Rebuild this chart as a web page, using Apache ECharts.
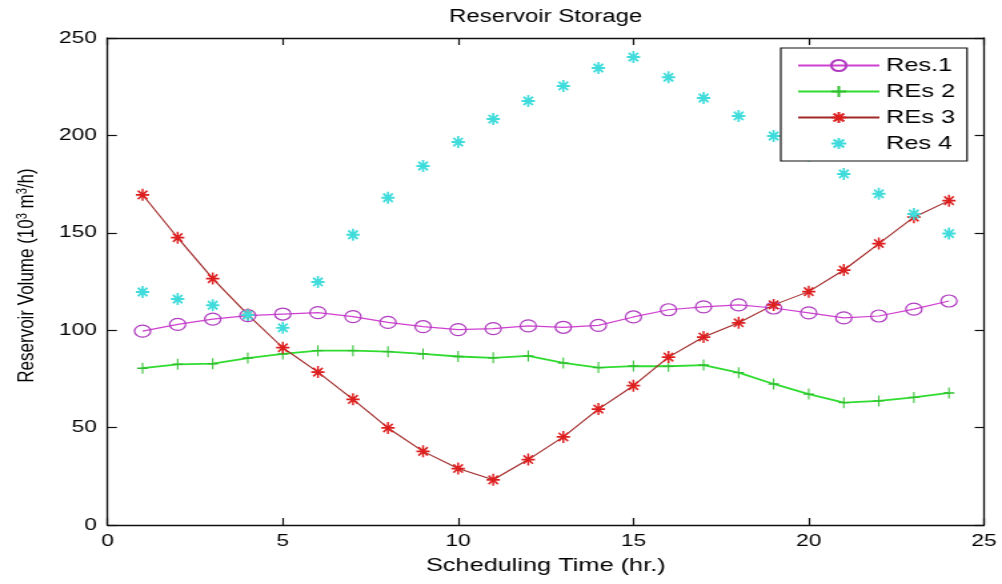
<!DOCTYPE html>
<html>
<head>
<meta charset="utf-8">
<script src="https://cdn.jsdelivr.net/npm/echarts@6.0.0/dist/echarts.min.js"></script>
<style>
  html, body { margin: 0; padding: 0; background: #fff; overflow: hidden; }
  #frame { width: 1002px; height: 584px; overflow: hidden; background: #fff; }
  /* the figure is laid out on a 752px canvas and shown widened to 1002px */
  #chart { width: 752px; height: 584px; transform: scaleX(1.332447); transform-origin: 0 0; }
</style>
</head>
<body>
<div id="frame"><div id="chart"></div></div>
<script>
// Scheduling hours
const hours = [1, 2, 3, 4, 5, 6, 7, 8, 9, 10, 11, 12, 13, 14, 15, 16, 17, 18, 19, 20, 21, 22, 23, 24];

// Reservoir volumes (10^3 m^3/h)
const res1 = [99.5, 103, 105.7, 107.5, 108.3, 109, 107, 104, 101.8, 100.3, 100.8, 102.2,
              101.5, 102.5, 106.8, 110.5, 112, 113, 111.4, 108.9, 106.3, 107.3, 110.8, 115];
const res2 = [80.5, 82.5, 82.8, 85.7, 87.8, 89.5, 89.5, 89, 87.8, 86.5, 85.8, 86.8,
              83.2, 80.8, 81.6, 81.5, 82.1, 78.2, 72.4, 67.2, 62.8, 63.7, 65.5, 67.8];
const res3 = [169.5, 147.5, 126.5, 108, 91, 78.5, 64.5, 49.8, 37.8, 29, 23.2, 33.6,
              45.2, 59.5, 71.5, 86.2, 96.5, 103.8, 113, 119.8, 130.9, 144.5, 158, 166.5];
const res4 = [119.6, 116, 112.8, 107.8, 101.2, 124.8, 149, 168, 184.3, 196.6, 208.4, 217.7,
              225.4, 234.6, 240.2, 229.8, 219.2, 210, 199.7, 189.5, 180.2, 170, 159.7, 149.6];

const seriesNames = ['Res.1', 'REs 2', 'REs 3', 'Res 4'];
const xTicks = { min: 0, max: 25, step: 5 };
const yTicks = { min: 0, max: 250, step: 50 };

const chartTitle = 'Reservoir Storage';
const xName = 'Scheduling Time (hr.)';
const yName = 'Reservoir Volume (10{sup|3} m{sup|3}/h)';

const pairs = vals => hours.map((h, i) => [h, vals[i]]);

const PLUS = 'path://M0,-10L0,10M-10,0L10,0';
const STAR = 'path://M0,-10L0,10M-10,0L10,0M-7,-7L7,7M-7,7L7,-7';

const FONT = '"Liberation Sans", Arial, Helvetica, sans-serif';

function frameAxis(extra, ticks) {
  return Object.assign({
    type: 'value',
    min: ticks.min,
    max: ticks.max,
    interval: ticks.step,
    axisLine: { show: true, onZero: false, lineStyle: { color: '#111', width: 1.3 } },
    axisTick: { show: true, inside: true, length: 7, lineStyle: { color: '#111', width: 1.2 } },
    axisLabel: { show: false },
    splitLine: { show: false }
  }, extra);
}

const chart = echarts.init(document.getElementById('chart'), null, { renderer: 'canvas' });

chart.setOption({
  animation: false,
  backgroundColor: '#fff',
  textStyle: { fontFamily: FONT },
  title: {
    text: chartTitle,
    left: 409.6,
    top: 8,
    textAlign: 'center',
    padding: 0,
    textStyle: { fontSize: 18, fontWeight: 'normal', color: '#000', fontFamily: FONT }
  },
  legend: {
    orient: 'vertical',
    left: 586,
    top: 48,
    padding: [8, 9, 8, 12],
    itemWidth: 61,
    itemHeight: 14,
    itemGap: 7,
    backgroundColor: '#fff',
    borderColor: '#111',
    borderWidth: 1.2,
    selectedMode: false,
    textStyle: { fontSize: 19, color: '#000', fontFamily: FONT },
    data: seriesNames
  },
  grid: { left: 80.7, right: 13.5, top: 38, bottom: 59 },
  xAxis: [
    frameAxis({
      position: 'bottom',
      name: xName,
      nameLocation: 'middle',
      nameGap: 31,
      nameTextStyle: { fontSize: 19, color: '#000', fontFamily: FONT },
      axisLabel: { show: true, fontSize: 17, color: '#000', margin: 8, fontFamily: FONT }
    }, xTicks),
    frameAxis({ position: 'top' }, xTicks)
  ],
  yAxis: [
    frameAxis({
      position: 'left',
      name: yName,
      nameLocation: 'middle',
      nameGap: 52,
      nameTextStyle: {
        fontSize: 17, color: '#000', fontFamily: FONT,
        padding: [0, 0, 0, 12],
        rich: { sup: { fontSize: 11, verticalAlign: 'top', color: '#000', fontFamily: FONT } }
      },
      axisLabel: { show: true, fontSize: 17, color: '#000', margin: 8, fontFamily: FONT }
    }, yTicks),
    frameAxis({ position: 'right' }, yTicks)
  ],
  series: [
    {
      name: seriesNames[0],
      type: 'line',
      data: pairs(res1),
      symbol: 'circle',
      symbolSize: 12,
      lineStyle: { color: '#d040d0', width: 1.2 },
      itemStyle: { color: 'transparent', borderColor: '#b03cc0', borderWidth: 1.2 }
    },
    {
      name: seriesNames[1],
      type: 'line',
      data: pairs(res2),
      symbol: PLUS,
      symbolSize: [8, 11],
      lineStyle: { color: '#30dc30', width: 1.8 },
      itemStyle: { color: '#30c030', borderColor: '#30c030', borderWidth: 1.2 }
    },
    {
      name: seriesNames[2],
      type: 'line',
      data: pairs(res3),
      symbol: STAR,
      symbolSize: [10, 12],
      lineStyle: { color: '#a02828', width: 1.1 },
      itemStyle: { color: '#dd1f1f', borderColor: '#dd1f1f', borderWidth: 1.6 }
    },
    {
      name: seriesNames[3],
      type: 'line',
      data: pairs(res4),
      symbol: STAR,
      symbolSize: [10, 12],
      lineStyle: { color: '#40dcdc', width: 0, opacity: 0 },
      itemStyle: { color: '#40dcdc', borderColor: '#40dcdc', borderWidth: 1.8 }
    }
  ]
});
</script>
</body>
</html>
